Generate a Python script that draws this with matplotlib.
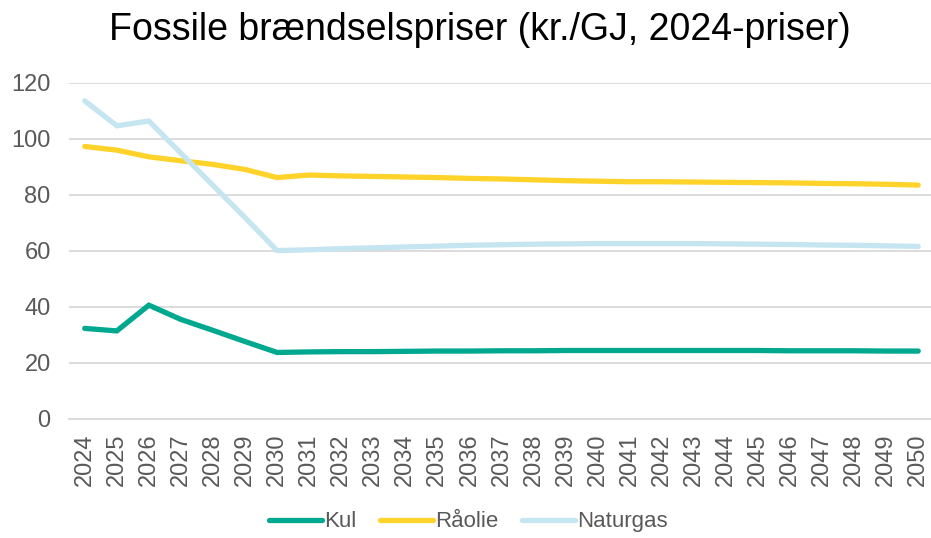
import matplotlib
matplotlib.use('Agg')
import matplotlib.pyplot as plt
import numpy as np

aar = list(range(2024, 2051))

kul = [32.2, 31.3, 40.5, 35.4, 31.5, 27.5, 23.6, 23.8, 23.9, 23.9, 24.0, 24.1, 24.1, 24.2, 24.2,
       24.3, 24.3, 24.3, 24.3, 24.3, 24.3, 24.3, 24.2, 24.2, 24.2, 24.1, 24.1]
raaolie = [97.2, 95.9, 93.5, 92.1, 90.8, 89.0, 86.1, 87.0, 86.7, 86.5, 86.3, 86.1, 85.8, 85.6, 85.3,
           85.0, 84.8, 84.6, 84.6, 84.5, 84.4, 84.3, 84.2, 84.0, 83.9, 83.7, 83.4]
naturgas = [113.5, 104.6, 106.3, 94.8, 83.3, 71.8, 60.0, 60.3, 60.7, 61.0, 61.3, 61.6, 61.9, 62.1, 62.3,
            62.4, 62.5, 62.5, 62.5, 62.5, 62.4, 62.3, 62.2, 62.0, 61.9, 61.7, 61.5]

serier = ['Kul', 'Råolie', 'Naturgas']
farver = ['#00A88F', '#FFD32A', '#C5E5F0']

plt.rcParams['font.family'] = ['Liberation Sans', 'DejaVu Sans']

fig = plt.figure(figsize=(9.31, 5.38), dpi=100)
ax = fig.add_axes([0.0738, 0.2221, 1.0035 - 0.0738, 0.8463 - 0.2221])

for navn, data, farve in zip(serier, [kul, raaolie, naturgas], farver):
    ax.plot(aar, data, color=farve, linewidth=3.8, solid_capstyle='round',
            solid_joinstyle='miter', label=navn)

ax.set_xlim(2023.5, 2050.5)
ax.set_ylim(0, 120)
ax.set_yticks(np.arange(0, 121, 20))
ax.set_xticks(aar)
ax.set_xticklabels([str(a) for a in aar], rotation=90)
ax.grid(axis='y', color='#D9D9D9', linewidth=1.3)
ax.set_axisbelow(True)
for side in ['top', 'right', 'left']:
    ax.spines[side].set_visible(False)
ax.spines['bottom'].set_color('#D9D9D9')
ax.spines['bottom'].set_linewidth(1.3)
ax.tick_params(axis='both', length=0, labelsize=17, labelcolor='#595959')
ax.tick_params(axis='y', pad=13)
ax.tick_params(axis='x', pad=11)

fig.text(0.515, 0.925, 'Fossile brændselspriser (kr./GJ, 2024-priser)', ha='center', va='baseline',
         fontsize=27, color='black')

leg = fig.legend(loc='center', bbox_to_anchor=(0.503, 0.03), ncol=3, frameon=False,
                 fontsize=16, handlelength=2.4, handletextpad=0.1, columnspacing=1.05)
for t in leg.get_texts():
    t.set_color('#595959')

plt.savefig('out.png', dpi=100)
